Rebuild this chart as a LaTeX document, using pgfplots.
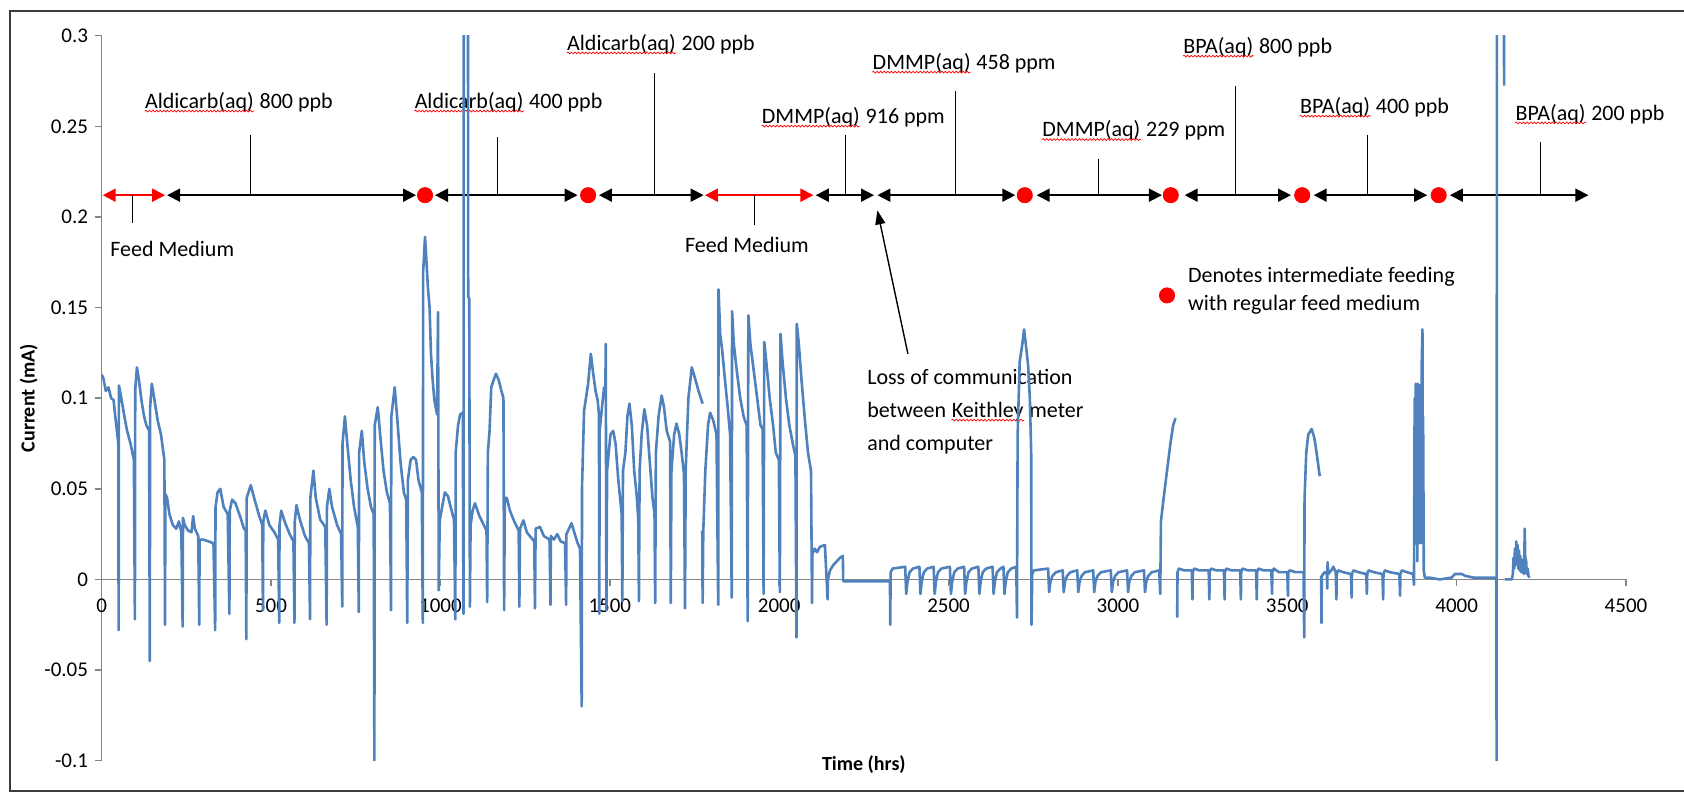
\documentclass[border=0pt]{standalone}
\usepackage{fontspec}
\setmainfont{Carlito}
\usepackage{pgfplots}
\pgfplotsset{compat=1.18}
\usetikzlibrary{arrows.meta,decorations.pathmorphing}
\definecolor{xlblue}{RGB}{79,129,189}
\definecolor{axgray}{RGB}{134,134,134}
\definecolor{framegray}{RGB}{60,60,60}
\newcommand{\afont}{\fontsize{11}{13}\selectfont}
\newcommand{\sqline}[1]{\draw[red,line width=0.35pt,decorate,decoration={snake,amplitude=0.45pt,segment length=1.8pt}] ([yshift=-1.4pt]#1.base west) -- ([yshift=-1.4pt]#1.base east);}
\newcommand{\annot}[4]{%
  \node[anchor=west,inner sep=0pt,font=\afont] (aw) at (axis cs:#1,#2) {#3};
  \node[anchor=base west,inner sep=0pt,font=\afont] at (aw.base east) {\ #4};
  \sqline{aw}}
\newcommand{\barrow}[2]{\draw[black,line width=0.9pt,{Triangle[length=6.5pt,width=6.5pt]}-{Triangle[length=6.5pt,width=6.5pt]}] (axis cs:#1,0.212) -- (axis cs:#2,0.212);}
\newcommand{\rarrow}[2]{\draw[red,line width=1.1pt,{Triangle[length=6.5pt,width=6.5pt]}-{Triangle[length=6.5pt,width=6.5pt]}] (axis cs:#1,0.212) -- (axis cs:#2,0.212);}
\newcommand{\vtick}[2]{\draw[black,line width=0.6pt] (axis cs:#1,0.212) -- (axis cs:#1,#2);}
\begin{document}
\begin{tikzpicture}
\useasboundingbox (-50.85pt,-17.65pt) rectangle (791.15pt,380.35pt);
\draw[framegray,line width=1pt] (-45.85pt,-15pt) rectangle (800pt,374.85pt);
\begin{axis}[
  at={(0pt,0pt)}, anchor=south west,
  scale only axis, width=762.15pt, height=362.5pt,
  xmin=0, xmax=4500, ymin=-0.1, ymax=0.3,
  axis x line=middle, axis y line=left,
  axis line style={-, draw=axgray, line width=0.7pt},
  xtick={0,500,...,4500},
  ytick={-0.1,-0.05,0,0.05,0.1,0.15,0.2,0.25,0.3},
  tick align=outside, major tick length=3.3pt,
  tick style={draw=axgray, line width=0.7pt},
  scaled ticks=false,
  /pgf/number format/assume math mode=true,
  /pgf/number format/1000 sep={},
  yticklabel style={/pgf/number format/fixed, /pgf/number format/precision=2, font=\fontsize{10.5}{12}\selectfont},
  xticklabel style={font=\fontsize{10.5}{12}\selectfont, yshift=-2.7pt},
  hide obscured x ticks=false, hide obscured y ticks=false,
  xlabel={Time (hrs)}, ylabel={Current (mA)},
  every axis x label/.style={at={(rel axis cs:0.5,0)}, anchor=center, yshift=-2.15pt, font=\bfseries\fontsize{10}{12}\selectfont},
  every axis y label/.style={at={(rel axis cs:0,0.5)}, anchor=center, xshift=-36.5pt, rotate=90, font=\bfseries\fontsize{10}{12}\selectfont},
  clip mode=individual,
  unbounded coords=jump,
]
% ---- annotations: timeline ----
\rarrow{3}{187}
\vtick{90}{0.1966}
\barrow{193}{928}
\vtick{440}{0.245}
\barrow{984}{1405}
\vtick{1168.6}{0.244}
\barrow{1468}{1777}
\vtick{1631.5}{0.2794}
\rarrow{1781}{2101}
\vtick{1927}{0.1953}
\barrow{2108}{2280}
\vtick{2196}{0.245}
\barrow{2290}{2697}
\vtick{2520}{0.2694}
\barrow{2760}{3130}
\vtick{2942}{0.2321}
\barrow{3197}{3511}
\vtick{3348}{0.272}
\barrow{3578}{3913}
\vtick{3737}{0.245}
\barrow{3980}{4389}
\vtick{4247}{0.2413}
\annot{127}{0.2634}{Aldicarb(aq)}{800 ppb}
\annot{923}{0.2634}{Aldicarb(aq)}{400 ppb}
\annot{1373}{0.2955}{Aldicarb(aq)}{200 ppb}
\annot{1948}{0.2551}{DMMP(aq)}{916 ppm}
\annot{2275}{0.2849}{DMMP(aq)}{458 ppm}
\annot{2776}{0.2477}{DMMP(aq)}{229 ppm}
\annot{3192}{0.2937}{BPA(aq)}{800 ppb}
\annot{3537}{0.2606}{BPA(aq)}{400 ppb}
\annot{4173}{0.2569}{BPA(aq)}{200 ppb}
\node[anchor=west,inner sep=0pt,font=\afont] at (axis cs:24.5,0.1826) {Feed Medium};
\node[anchor=west,inner sep=0pt,font=\afont] at (axis cs:1721,0.1843) {Feed Medium};
\node[anchor=west,inner sep=0pt,font=\afont] at (axis cs:2259,0.1116) {Loss of communication};
\node[anchor=west,inner sep=0pt,font=\afont] (bw) at (axis cs:2259,0.0936) {between};
\node[anchor=base west,inner sep=0pt,font=\afont,xshift=2.5pt] (kw) at (bw.base east) {Keithley};
\node[anchor=base west,inner sep=0pt,font=\afont,xshift=2.5pt] at (kw.base east) {meter};
\sqline{kw}
\node[anchor=west,inner sep=0pt,font=\afont] at (axis cs:2259,0.0745) {and computer};
\draw[black,line width=0.7pt,-{Triangle[length=7pt,width=5pt]}] (axis cs:2380,0.1245) -- (axis cs:2290,0.2036);
\node[anchor=west,inner sep=0pt,font=\afont] at (axis cs:3206,0.1668) {Denotes intermediate feeding};
\node[anchor=west,inner sep=0pt,font=\afont] at (axis cs:3206,0.1517) {with regular feed medium};
% ---- data ----
\addplot[xlblue, line width=1.3pt, line join=round] coordinates {
(0,0.113) (5,0.111) (12,0.104) (20,0.106) (28,0.100) (35,0.099) (40,0.090) (45,0.082) (49,0.075)
(50,-0.028) (51,0.107) (58,0.100) (65,0.092) (75,0.082) (85,0.075) (95,0.066)
(98,-0.022) (99,0.105) (104,0.117) (110,0.110) (118,0.098) (125,0.090) (132,0.085) (140,0.082)
(142,-0.045) (143,0.095) (148,0.108) (155,0.100) (165,0.088) (175,0.080) (185,0.066)
(187,-0.025) (188,0.047) (193,0.045) (200,0.036) (210,0.030) (220,0.028) (228,0.032) (235,0.026)
(239,-0.026) (240,0.034) (245,0.030) (255,0.027) (265,0.026) (270,0.035) (275,0.028) (285,0.024)
(288,-0.025) (289,0.022) (300,0.022) (315,0.021) (330,0.020)
(335,-0.028) (336,0.040) (342,0.048) (350,0.050) (360,0.040) (372,0.036)
(377,-0.019) (378,0.038) (385,0.044) (395,0.042) (410,0.034) (420,0.028) (425,0.027)
(427,-0.033) (428,0.045) (440,0.052) (450,0.045) (465,0.035) (474,0.030)
(476,-0.017) (477,0.032) (483,0.038) (495,0.030) (510,0.026) (521,0.022)
(524,-0.024) (525,0.030) (530,0.038) (540,0.032) (555,0.025) (566,0.021)
(569,-0.024) (570,0.032) (575,0.041) (585,0.033) (600,0.024) (612,0.020)
(615,-0.022) (616,0.045) (625,0.060) (632,0.045) (645,0.033) (660,0.029)
(664,-0.025) (665,0.040) (672,0.050) (680,0.040) (695,0.030) (707,0.025)
(710,-0.015) (711,0.075) (718,0.090) (725,0.075) (735,0.055) (745,0.040) (756,0.029)
(759,-0.018) (760,0.070) (768,0.082) (775,0.065) (785,0.050) (795,0.040) (803,0.036)
(805,-0.100) (806,0.085) (815,0.095) (822,0.080) (832,0.060) (842,0.048) (851,0.042)
(854,-0.017) (855,0.090) (865,0.106) (872,0.090) (882,0.065) (892,0.048) (899,0.044)
(902,-0.024) (904,0.055) (912,0.066) (920,0.0675) (928,0.066) (935,0.055) (945,0.048)
(948,-0.024) (949,0.170) (954.5,0.189) (958,0.178) (963,0.161) (968,0.150) (972,0.1245) (977,0.110) (982,0.099) (990,0.091)
(993,0.1475) (995,-0.006) (998,0.0326) (1005,0.040) (1013,0.048) (1022,0.046) (1030,0.040) (1040,0.033)
(1044,-0.022) (1045,0.070) (1052,0.085) (1058,0.091) (1066,0.092) (1068,-0.019) (1069,0.400) (1081,0.400) (1082,0.156) (1085,0.155)
(1087,-0.015) (1089,0.030) (1095,0.038) (1102,0.042) (1115,0.035) (1128,0.030) (1136,0.027)
(1138,-0.0125) (1140,0.070) (1145,0.082) (1150,0.106) (1157,0.110) (1164,0.1135) (1172,0.110) (1180,0.104) (1186,0.100)
(1188,-0.017) (1190,0.045) (1196,0.045) (1205,0.038) (1218,0.032) (1231,0.027)
(1233,-0.015) (1235,0.028) (1245,0.0326) (1255,0.026) (1268,0.023) (1277,0.021)
(1279,-0.016) (1281,0.028) (1294,0.029) (1305,0.024) (1322,0.022)
(1325,-0.014) (1326,0.024) (1335,0.022) (1345,0.025) (1355,0.021) (1368,0.020)
(1371,-0.014) (1372,0.025) (1387,0.031) (1395,0.026) (1405,0.020) (1412,0.017)
(1417,-0.070) (1418,0.051) (1424,0.093) (1436,0.108) (1444,0.1245) (1450,0.115) (1458,0.104) (1464,0.099) (1468,0.091)
(1469,-0.019) (1470,0.082) (1477,0.095) (1483,0.106) (1487,0.106) (1488,0.130) (1490,-0.017) (1492,0.060) (1496,0.068) (1502,0.080) (1510,0.082) (1517,0.075) (1525,0.055) (1535,0.036)
(1537,-0.012) (1539,0.060) (1546,0.070) (1552,0.090) (1558,0.097) (1565,0.085) (1572,0.060) (1580,0.045) (1584,0.033)
(1586,-0.012) (1588,0.060) (1594,0.080) (1602,0.094) (1610,0.085) (1618,0.065) (1626,0.045) (1632,0.036)
(1634,-0.013) (1636,0.070) (1644,0.090) (1653,0.1015) (1660,0.095) (1668,0.082) (1678,0.076)
(1680,-0.013) (1682,0.060) (1690,0.080) (1697,0.086) (1705,0.080) (1712,0.070) (1719,0.058)
(1722,-0.016) (1724,0.060) (1732,0.100) (1742,0.117) (1750,0.112) (1762,0.104) (1774,0.097) (1775,nan)
(1773,0.027) (1774,-0.013) (1776,0.027) (1782,0.060) (1790,0.085) (1796,0.092) (1805,0.088) (1815,0.080)
(1820,-0.014) (1821,0.160) (1826,0.135) (1832,0.126) (1840,0.110) (1848,0.095) (1855,0.080)
(1860,-0.010) (1861,0.148) (1866,0.130) (1875,0.115) (1885,0.100) (1895,0.090) (1904,0.085)
(1907,-0.023) (1909,0.1457) (1915,0.130) (1925,0.115) (1935,0.100) (1945,0.085) (1951,0.083)
(1954,-0.008) (1956,0.131) (1962,0.120) (1972,0.100) (1982,0.085) (1990,0.070) (1999,0.066)
(2002,-0.007) (2004,0.1355) (2010,0.120) (2020,0.100) (2030,0.085) (2040,0.075) (2048,0.068)
(2051,-0.032) (2052,0.141) (2058,0.130) (2066,0.110) (2075,0.090) (2085,0.070) (2094,0.060)
(2097,-0.013) (2098,0.014) (2105,0.017) (2112,0.015) (2120,0.018) (2135,0.019)
(2143,-0.011) (2144,0.000) (2150,0.005) (2160,0.008) (2170,0.010) (2180,0.012) (2188,0.013)
(2189,-0.001) (2327,-0.001)
(2328,-0.025) (2329,0.004) (2335,0.006) (2372,0.007)
(2375,-0.008) (2379,-0.001) (2385,0.004) (2395,0.006) (2414,0.007)
(2417,-0.008) (2421,-0.001) (2427,0.004) (2437,0.006) (2456,0.007)
(2459,-0.008) (2463,-0.001) (2469,0.004) (2479,0.006) (2504,0.007)
(2507,-0.008) (2511,-0.001) (2517,0.004) (2527,0.006) (2546,0.007)
(2549,-0.008) (2553,-0.001) (2559,0.004) (2569,0.006) (2588,0.007)
(2591,-0.008) (2595,-0.001) (2601,0.004) (2611,0.006) (2630,0.007)
(2633,-0.008) (2637,-0.001) (2643,0.004) (2653,0.006) (2662,0.007)
(2665,-0.008) (2669,-0.001) (2675,0.004) (2685,0.006) (2700,0.007)
(2702,-0.021) (2704,0.080) (2710,0.120) (2718,0.130) (2723,0.138) (2728,0.130) (2735,0.118) (2740,0.100) (2744,0.070)
(2745,-0.025) (2747,0.003) (2752,0.005) (2794,0.006)
(2797,-0.007) (2801,-0.001) (2807,0.002) (2817,0.004) (2837,0.005)
(2840,-0.007) (2844,-0.001) (2850,0.002) (2860,0.004) (2880,0.005)
(2883,-0.007) (2887,-0.001) (2893,0.002) (2903,0.004) (2927,0.005)
(2930,-0.007) (2934,-0.001) (2940,0.002) (2950,0.004) (2979,0.005)
(2982,-0.007) (2986,-0.001) (2992,0.002) (3002,0.004) (3027,0.005)
(3030,-0.007) (3034,-0.001) (3040,0.002) (3050,0.004) (3077,0.005)
(3080,-0.007) (3084,-0.001) (3090,0.002) (3100,0.004) (3122,0.005)
(3125,-0.008) (3127,0.032) (3135,0.045) (3145,0.060) (3155,0.075) (3163,0.085) (3170,0.089) (3172,nan)
(3175,-0.021) (3176,0.004) (3180,0.006) (3195,0.005) (3218,0.005)
(3220,-0.011) (3221,0.004) (3225,0.006) (3240,0.005) (3268,0.005)
(3270,-0.011) (3271,0.004) (3275,0.006) (3290,0.005) (3313,0.005)
(3315,-0.011) (3316,0.004) (3320,0.006) (3335,0.005) (3361,0.005)
(3363,-0.011) (3364,0.004) (3368,0.006) (3383,0.005) (3408,0.005)
(3410,-0.011) (3411,0.004) (3415,0.006) (3430,0.005) (3453,0.005)
(3455,-0.008) (3456,0.004) (3460,0.006) (3475,0.004) (3500,0.004)
(3502,-0.009) (3503,0.004) (3507,0.005) (3525,0.004) (3548,0.004)
(3550,-0.032) (3551,0.045) (3556,0.070) (3562,0.080) (3572,0.083) (3580,0.078) (3588,0.068) (3595,0.058) (3597,0.057) (3598,nan)
(3600,0.002) (3601,-0.024) (3602,0.002) (3610,0.004) (3617,0.003) (3618,-0.005) (3619,0.0096) (3621,0.003) (3630,0.005) (3636,0.007) (3643,0.004)
(3645,-0.011) (3646,0.003) (3650,0.005) (3665,0.004) (3688,0.003)
(3690,-0.010) (3691,0.003) (3695,0.005) (3710,0.004) (3733,0.003)
(3735,-0.008) (3736,0.003) (3740,0.005) (3755,0.004) (3781,0.003)
(3783,-0.011) (3784,0.003) (3788,0.005) (3803,0.004) (3831,0.003)
(3833,-0.009) (3834,0.003) (3838,0.005) (3853,0.004) (3872,0.003)
(3874,-0.003) (3876,0.100) (3878,0.020) (3879,0.108) (3881,0.030) (3882,0.107) (3884,0.010) (3885,0.108) (3887,0.040) (3888,0.105) (3890,0.020) (3891,0.107) (3893,0.030) (3894,0.106) (3896,0.020) (3897,0.120) (3899,0.138) (3900,0.050) (3901,0.090) (3903,0.005) (3906,0.001)
(3920,0.001) (3950,0.000) (3985,0.001) (3995,0.003) (4015,0.003) (4025,0.002) (4050,0.001) (4080,0.001) (4117,0.001)
(4118,-0.100) (4119,0.400) (4139,0.400) (4140,0.2725) (4141,nan)
(4142,0.000) (4163,0.000) (4166,0.003) (4168,0.012) (4170,0.006) (4172,0.017) (4174,0.008) (4176,0.021) (4178,0.009) (4180,0.019) (4182,0.006) (4184,0.016) (4186,0.005) (4188,0.013) (4190,0.004) (4192,0.011) (4194,0.004) (4196,0.010) (4198,0.003) (4200,0.015) (4201,0.028) (4203,0.006) (4205,0.011) (4207,0.003) (4210,0.006) (4212,0.002) (4215,0.001)
};
% ---- red dots ----
\addplot[only marks, mark=*, mark size=3.8pt, red, mark options={fill=red, draw=red}] coordinates {
(954.5,0.212) (1436,0.212) (2725,0.212) (3156,0.212) (3544,0.212) (3947,0.212) (3145,0.1567)
};
\end{axis}
\end{tikzpicture}
\end{document}
